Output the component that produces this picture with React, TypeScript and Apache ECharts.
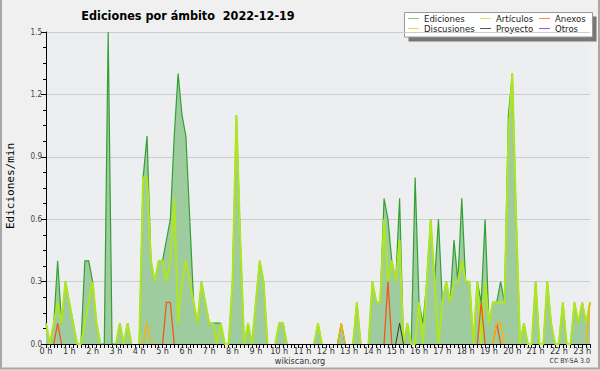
import React, { useEffect, useRef } from "react";
import * as echarts from "echarts";

const titleText = "Ediciones por ámbito  2022-12-19";
const yAxisName = "Ediciones/min";
const hourLabels = ["0 h","1 h","2 h","3 h","4 h","5 h","6 h","7 h","8 h","9 h","10 h","11 h","12 h","13 h","14 h","15 h","16 h","17 h","18 h","19 h","20 h","21 h","22 h","23 h"];
const yTicks = [0, 0.3, 0.6, 0.9, 1.2, 1.5];

// 10-minute slots from 00:00 to 23:20
const ediciones = [
  0.1,0,0.1,0.4,0.1,0.3,0.2,0.1,0,0,
  0.4,0.4,0.3,0.1,0,0,1.5,0,0,0.1,
  0,0.1,0,0,0,0.8,1.0,0.4,0.3,0.4,
  0.4,0.5,0.6,1.0,1.3,1.1,1.0,0.6,0.2,0.1,
  0.3,0.2,0.1,0.1,0.1,0.1,0,0,0.3,1.1,
  0.5,0,0.1,0,0.2,0.4,0.3,0,0,0,
  0.1,0.1,0,0,0,0,0,0,0,0,
  0.1,0,0,0,0,0,0.1,0,0,0,
  0.2,0,0,0,0.3,0.2,0.2,0.7,0.6,0.4,
  0.3,0.7,0,0.1,0,0.8,0.2,0.1,0.3,0.6,
  0.3,0.6,0.2,0.3,0.2,0.5,0.3,0.7,0.3,0.3,
  0,0.3,0.2,0.6,0.1,0.2,0.2,0.3,0.2,1.1,
  1.3,0.6,0,0.1,0,0,0.3,0,0,0.3,
  0.1,0,0,0.2,0,0,0.2,0.1,0.2,0.1,
  0.2
];
const articulos = [
  0.1,0,0.1,0.2,0.1,0.3,0.2,0.1,0,0,
  0.1,0.2,0.3,0.1,0,0,0,0,0,0.1,
  0,0.1,0,0,0,0.8,0.8,0.4,0.3,0.4,
  0.4,0.3,0.4,0.7,0.1,0.3,0.4,0.3,0.2,0.1,
  0.3,0.2,0.1,0.1,0,0.1,0,0,0.3,1.1,
  0.5,0,0.1,0,0.2,0.4,0.3,0,0,0,
  0.1,0.1,0,0,0,0,0,0,0,0,
  0.1,0,0,0,0,0,0,0,0,0,
  0.2,0,0,0,0.3,0.2,0.2,0.6,0.3,0.4,
  0.3,0.5,0,0.1,0,0,0.2,0,0.3,0.6,
  0.3,0,0.2,0.3,0.2,0.3,0.3,0.4,0.3,0.3,
  0,0.3,0,0.3,0.1,0.2,0.2,0.2,0.2,1.0,
  1.3,0.6,0,0.1,0,0,0.3,0,0,0.3,
  0.1,0,0,0.2,0,0,0.2,0.1,0.2,0.1,
  0.2
];
const anexos = [
  0,0,0,0.1,0,0,0,0,0,0, 0,0,0,0,0,0,0,0,0,0,
  0,0,0,0,0,0,0,0,0,0, 0,0.2,0.2,0,0,0,0,0,0,0,
  0,0,0,0,0,0,0,0,0,0, 0,0,0,0,0,0,0,0,0,0,
  0,0,0,0,0,0,0,0,0,0, 0,0,0,0,0,0,0,0,0,0,
  0,0,0,0,0,0,0,0,0.3,0, 0,0,0,0,0,0,0,0,0,0,
  0,0,0,0,0,0,0,0,0,0, 0,0,0.2,0,0,0,0.1,0,0,0,
  0,0,0,0,0,0,0,0,0,0, 0,0,0,0,0,0,0,0,0,0,
  0
];
const discusiones = [
  0,0,0,0,0,0,0,0,0,0, 0,0,0,0,0,0,0,0,0,0,
  0,0,0,0,0,0,0.1,0,0,0, 0,0,0,0,0,0,0,0,0,0,
  0,0,0,0,0,0,0,0,0,0, 0,0,0,0,0,0,0,0,0,0,
  0,0,0,0,0,0,0,0,0,0, 0,0,0,0,0,0,0.1,0,0,0,
  0,0,0,0,0,0,0,0,0,0, 0,0,0,0,0,0,0,0,0,0,
  0,0,0,0,0,0,0,0,0,0, 0,0,0,0,0,0,0.1,0.1,0,0,
  0,0,0,0,0,0,0,0,0,0, 0,0,0,0,0,0,0,0,0,0,
  0.2
];
const proyecto = [
  0,0,0,0,0,0,0,0,0,0, 0,0,0,0,0,0,0,0,0,0,
  0,0,0,0,0,0,0,0,0,0, 0,0,0,0,0,0,0,0,0,0,
  0,0,0,0,0,0,0,0,0,0, 0,0,0,0,0,0,0,0,0,0,
  0,0,0,0,0,0,0,0,0,0, 0,0,0,0,0,0,0,0,0,0,
  0,0,0,0,0,0,0,0,0,0, 0,0.1,0,0,0,0,0,0,0,0,
  0,0,0,0,0,0,0,0,0,0, 0,0,0,0,0,0,0,0,0,0,
  0,0,0,0,0,0,0,0,0,0, 0,0,0,0,0,0,0,0,0,0,
  0
];
const otros = ediciones.map(() => 0);

const legendItems = [
  { name: "Ediciones", color: "#88cc88" },
  { name: "Artículos", color: "#ccee55" },
  { name: "Anexos", color: "#ff8844" },
  { name: "Discusiones", color: "#ffcc44" },
  { name: "Proyecto", color: "#555555" },
  { name: "Otros", color: "#9955ee" },
];

const categories = ediciones.map((_, i) => {
  const h = Math.floor(i / 6);
  const m = (i % 6) * 10;
  return `${h}:${m === 0 ? "00" : m}`;
});

// hide long runs of zeros (keep the zero neighbours of each bump)
function sparse(arr: number[]) {
  return arr.map((v, i) => {
    if (v !== 0) return v;
    if ((i > 0 && arr[i - 1] !== 0) || (i < arr.length - 1 && arr[i + 1] !== 0)) return 0;
    return "-";
  });
}

const FONT = "'DejaVu Sans Condensed', 'DejaVu Sans', sans-serif";

export default function App() {
  const ref = useRef<HTMLDivElement>(null);
  useEffect(() => {
    if (!ref.current) return;
    const chart = echarts.init(ref.current, null, { renderer: "svg" });
    const legendPos = [
      [408, 18.5], [480, 18.5], [539, 18.5],
      [408, 28.5], [480, 28.5], [539, 28.5],
    ];
    const legendGraphics: any[] = [
      { type: "rect", shape: { x: 408.5, y: 16.5, width: 188, height: 25 }, style: { fill: "#777777" }, silent: true },
      { type: "rect", shape: { x: 404.5, y: 12.5, width: 188, height: 24.5 }, style: { fill: "#ffffff", stroke: "#999999", lineWidth: 1 }, silent: true },
    ];
    legendItems.forEach((it, k) => {
      const [lx, ly] = legendPos[k];
      legendGraphics.push({ type: "line", shape: { x1: lx, y1: ly, x2: lx + 11, y2: ly }, style: { stroke: it.color, lineWidth: 1 }, silent: true });
      legendGraphics.push({ type: "text", x: lx + 16, y: ly, style: { text: it.name, font: `9.5px ${FONT}`, fill: "#222", verticalAlign: "middle", align: "left" }, silent: true });
    });

    chart.setOption({
      animation: false,
      backgroundColor: "#f0f0f0",
      grid: { left: 46, right: 10, top: 32, bottom: 26, show: true, backgroundColor: "#edeef0", borderWidth: 0 },
      xAxis: {
        type: "category",
        data: categories,
        boundaryGap: false,
        axisLine: { show: true, lineStyle: { color: "#000", width: 1 } },
        axisTick: { show: true, interval: 0, length: 4, lineStyle: { color: "#000" } },
        axisLabel: {
          interval: 5,
          margin: 2,
          color: "#333",
          fontSize: 9,
          fontFamily: FONT,
          formatter: (_v: string, idx: number) => hourLabels[Math.floor(idx / 6)] ?? "",
        },
        splitLine: { show: false },
      },
      yAxis: {
        type: "value",
        min: yTicks[0],
        max: yTicks[yTicks.length - 1],
        interval: 0.3,
        axisLine: { show: true, lineStyle: { color: "#000", width: 1 } },
        axisTick: { show: true, length: 5, lineStyle: { color: "#000" } },
        minorTick: { show: true, splitNumber: 4, length: 3, lineStyle: { color: "#000" } },
        axisLabel: { color: "#444", fontSize: 8, fontFamily: FONT, margin: 4, formatter: (v: number) => v.toFixed(1) },
        splitLine: { show: true, lineStyle: { color: "#cccccc", width: 1 } },
      },
      graphic: [
        { type: "polyline", shape: { points: [[1, 0], [1, 368.5], [599, 368.5], [599, 0]] }, style: { fill: "none", stroke: "#a8a8a8", lineWidth: 2 }, silent: true, z: 100 },
        { type: "text", x: 188, y: 15, style: { text: titleText, font: `bold 12.5px ${FONT}`, fill: "#000", align: "center", verticalAlign: "middle" }, silent: true },
        { type: "text", x: 10, y: 186, rotation: Math.PI / 2, style: { text: yAxisName, font: "11px 'DejaVu Sans Mono', monospace", fill: "#000", align: "center", verticalAlign: "middle" }, silent: true },
        { type: "text", x: 300, y: 361, style: { text: "wikiscan.org", font: `9px ${FONT}`, fill: "#333", align: "center", verticalAlign: "middle" }, silent: true },
        { type: "text", x: 590, y: 361, style: { text: "CC BY-SA 3.0", font: `7px ${FONT}`, fill: "#333", align: "right", verticalAlign: "middle" }, silent: true },
        ...legendGraphics,
      ],
      series: [
        {
          name: "Ediciones", type: "line", data: sparse(ediciones), symbol: "none",
          lineStyle: { color: "#33a033", width: 1.2 },
          areaStyle: { color: "#9ecc9e", opacity: 1 },
          z: 2,
        },
        { name: "Otros", type: "line", data: sparse(otros), symbol: "none", lineStyle: { color: "#9955ee", width: 1 }, z: 3 },
        {
          name: "Artículos", type: "line", data: sparse(articulos), symbol: "none",
          lineStyle: { color: "#aee620", width: 2 },
          z: 4,
        },
        { name: "Anexos", type: "line", data: sparse(anexos), symbol: "none", lineStyle: { color: "#ee5a1a", width: 1.3 }, z: 5 },
        { name: "Discusiones", type: "line", data: sparse(discusiones), symbol: "none", lineStyle: { color: "#ffb000", width: 1.3 }, z: 5 },
        { name: "Proyecto", type: "line", data: sparse(proyecto), symbol: "none", lineStyle: { color: "#333333", width: 1 }, z: 5 },
      ],
    });
    return () => chart.dispose();
  }, []);
  return <div ref={ref} style={{ position: "fixed", left: 0, top: 0, width: 600, height: 370 }} />;
}
